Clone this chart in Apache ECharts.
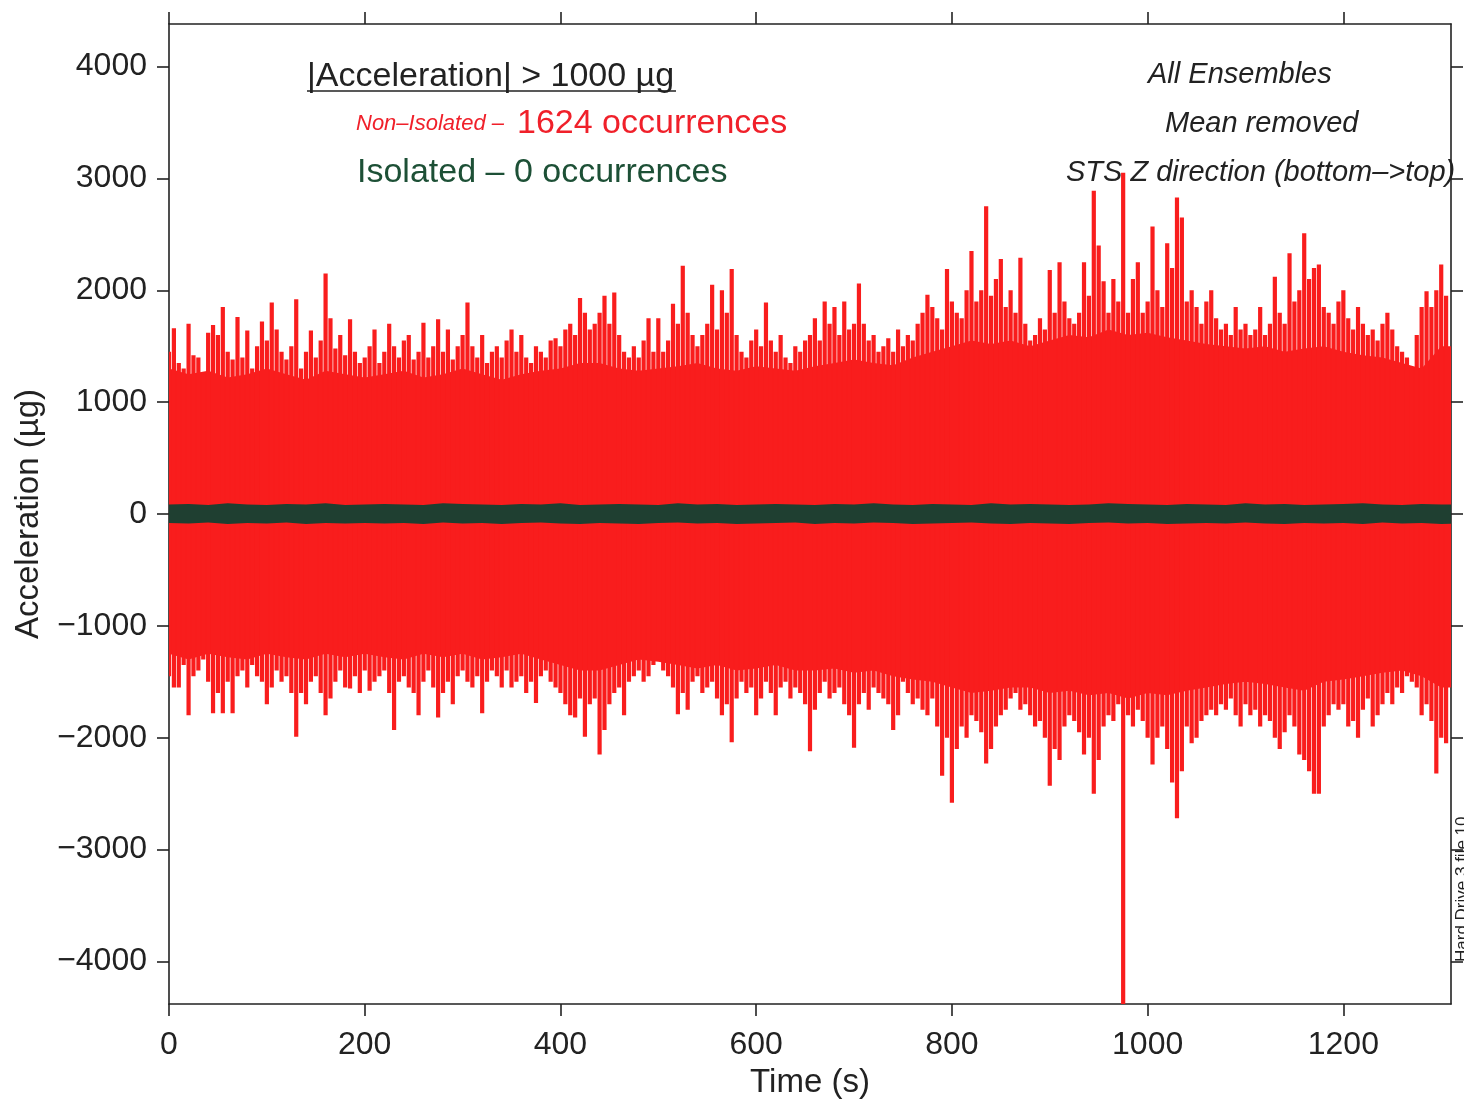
<!DOCTYPE html>
<html>
<head>
<meta charset="utf-8">
<title>Acceleration time series</title>
<script src="https://cdn.jsdelivr.net/npm/echarts@6/dist/echarts.min.js"></script>
<style>
  html, body { margin: 0; padding: 0; background: #fff; }
  #chart { width: 1464px; height: 1100px; }
</style>
</head>
<body>
<div id="chart"></div>
<script>
// time step (s) between the peak samples and between the core-envelope samples
var PEAK_STEP = 5;
var CORE_STEP = 20;

var xTicks = [0, 200, 400, 600, 800, 1000, 1200];
var yTicks = [-4000, -3000, -2000, -1000, 0, 1000, 2000, 3000, 4000];

// Non-isolated: peak of each 5 s slice (µg), t = 0, 5, 10 ...
var upperPeak = [
  1450,1660,1350,1300,1700,1420,1400,1250,1620,1690,
  1600,1850,1450,1380,1760,1400,1640,1300,1500,1720,
  1550,1890,1650,1450,1380,1500,1920,1300,1450,1640,
  1400,1550,2150,1750,1480,1600,1420,1740,1450,1350,
  1400,1500,1650,1350,1450,1700,1500,1400,1550,1600,
  1380,1450,1710,1400,1500,1740,1450,1650,1380,1500,
  1600,1890,1500,1400,1600,1350,1450,1500,1400,1550,
  1650,1450,1600,1400,1350,1500,1450,1400,1550,1570,
  1500,1650,1700,1600,1930,1800,1650,1700,1800,1950,
  1700,1980,1600,1450,1400,1500,1400,1550,1750,1450,
  1750,1450,1550,1880,1700,2220,1800,1600,1500,1600,
  1700,2050,1650,2000,1800,2190,1600,1450,1400,1550,
  1650,1500,1890,1550,1450,1600,1400,1350,1500,1450,
  1550,1600,1750,1550,1900,1700,1850,1600,1900,1650,
  1700,2060,1700,1550,1600,1450,1500,1570,1450,1650,
  1500,1600,1550,1700,1800,1960,1850,1750,1650,2190,
  1900,1800,1750,2000,2350,1900,2000,2750,1950,2100,
  2280,1850,2000,1800,2290,1700,1550,1600,1750,1650,
  2180,1800,2250,1900,1750,1700,1800,2250,1950,2890,
  2400,2080,1800,2100,1900,3050,1800,2100,2250,1800,
  1900,2570,2000,1850,2420,2200,2830,2650,1900,2000,
  1850,1700,1900,2000,1750,1650,1700,1600,1850,1650,
  1700,1600,1650,1850,1600,1700,2120,1800,1700,2330,
  1900,2000,2510,2100,2200,2230,1850,1800,1700,1900,
  2000,1750,1650,1850,1700,1600,1650,1550,1700,1800,
  1650,1500,1450,1400,1300,1600,1850,1990,1850,2000,
  2230,1950
];
var lowerPeak = [
  -1450,-1550,-1550,-1350,-1800,-1450,-1400,-1300,-1500,-1780,
  -1600,-1780,-1500,-1780,-1450,-1400,-1550,-1350,-1450,-1500,
  -1700,-1550,-1400,-1500,-1450,-1600,-1990,-1600,-1700,-1500,
  -1450,-1600,-1800,-1650,-1500,-1400,-1550,-1560,-1450,-1600,
  -1400,-1580,-1500,-1450,-1400,-1600,-1930,-1500,-1450,-1550,
  -1600,-1800,-1500,-1400,-1550,-1820,-1600,-1500,-1700,-1450,
  -1400,-1500,-1550,-1450,-1780,-1500,-1400,-1450,-1550,-1400,
  -1550,-1500,-1450,-1600,-1500,-1690,-1450,-1400,-1500,-1550,
  -1600,-1700,-1800,-1820,-1650,-1990,-1700,-1650,-2150,-1930,
  -1700,-1600,-1550,-1800,-1500,-1450,-1400,-1500,-1450,-1350,
  -1300,-1400,-1450,-1550,-1790,-1600,-1750,-1500,-1450,-1600,
  -1550,-1500,-1650,-1800,-1700,-2040,-1650,-1500,-1600,-1550,
  -1800,-1650,-1500,-1600,-1800,-1550,-1500,-1650,-1550,-1600,
  -1700,-2120,-1750,-1600,-1500,-1650,-1600,-1550,-1700,-1800,
  -2090,-1700,-1600,-1750,-1550,-1600,-1650,-1700,-1930,-1800,
  -1500,-1600,-1700,-1650,-1750,-1800,-1650,-1900,-2340,-2000,
  -2580,-2100,-1900,-2000,-1800,-1850,-1950,-2230,-2100,-1900,
  -1800,-1750,-1650,-1600,-1750,-1700,-1800,-1900,-1850,-2000,
  -2430,-2100,-2200,-1900,-1800,-1850,-1950,-2150,-2000,-2500,
  -2200,-1900,-1800,-1850,-1700,-4380,-1800,-1900,-1750,-1850,
  -2000,-2240,-2000,-1900,-2100,-2400,-2720,-2300,-1900,-2050,
  -2000,-1850,-1800,-1750,-1800,-1700,-1750,-1650,-1800,-1900,
  -1700,-1800,-1750,-1900,-1800,-1850,-2000,-2100,-1950,-1800,
  -1900,-2150,-2200,-2300,-2500,-2500,-1900,-1800,-1700,-1750,
  -1700,-1900,-1850,-2000,-1750,-1650,-1900,-1800,-1700,-1600,
  -1700,-1550,-1600,-1450,-1500,-1550,-1800,-1700,-1850,-2320,
  -2000,-2050
];

// Non-isolated: solid core of the trace, t = 0, 20, 40 ...
var upperCore = [
  1300,1250,1280,1220,1250,1300,1250,1200,1280,1250,1220,
  1250,1280,1220,1250,1300,1250,1200,1250,1280,1300,1350,
  1350,1300,1280,1300,1320,1350,1300,1280,1320,1300,1280,
  1320,1350,1380,1350,1330,1400,1450,1500,1550,1520,1550,
  1500,1550,1600,1580,1650,1600,1620,1580,1550,1520,1500,
  1480,1500,1450,1480,1500,1450,1420,1400,1350,1300,1500,
  1500
];
var lowerCore = [
  -1250,-1300,-1250,-1280,-1300,-1250,-1280,-1300,-1250,-1280,-1250,
  -1280,-1300,-1250,-1280,-1250,-1300,-1280,-1250,-1300,-1350,-1400,
  -1400,-1350,-1300,-1320,-1350,-1380,-1350,-1400,-1380,-1350,-1400,
  -1400,-1380,-1420,-1400,-1450,-1480,-1500,-1550,-1600,-1580,-1550,
  -1550,-1600,-1580,-1620,-1600,-1650,-1600,-1620,-1580,-1550,-1520,
  -1500,-1520,-1550,-1580,-1500,-1480,-1450,-1420,-1400,-1450,-1550,
  -1550
];

// Isolated trace envelope, t = 0, 20, 40 ...
var isoUpper = [
  85,90,80,95,85,80,90,85,95,80,85,
  90,85,80,95,90,85,80,90,85,95,80,
  85,90,85,80,95,85,90,80,85,90,85,
  80,90,85,95,85,80,90,85,80,95,85,
  90,85,80,85,95,90,85,80,90,85,80,
  95,85,90,80,85,90,95,85,80,90,85,
  85
];
var isoLower = [
  -80,-85,-75,-90,-80,-85,-75,-90,-80,-85,-80,
  -85,-80,-90,-75,-85,-80,-90,-80,-75,-85,-90,
  -80,-85,-90,-80,-75,-85,-80,-90,-85,-80,-75,
  -90,-80,-85,-75,-80,-90,-85,-80,-75,-85,-90,
  -80,-85,-90,-80,-75,-85,-80,-90,-85,-80,-85,
  -75,-85,-90,-80,-85,-80,-90,-75,-85,-80,-90,
  -85
];

var RED = '#f91d1d';
var GREEN = '#1f3f31';
var INK = '#222222';
var FONT = '"Liberation Sans", Arial, Helvetica, sans-serif';

function toPairs(values, step) {
  return values.map(function (v, i) { return [i * step, v]; });
}

var peakData = upperPeak.map(function (v, i) {
  return [i * PEAK_STEP, v, lowerPeak[i]];
});

function areaSeries(values, color, z) {
  return {
    type: 'line',
    data: toPairs(values, CORE_STEP),
    showSymbol: false,
    silent: true,
    z: z,
    lineStyle: { width: 0, color: color },
    itemStyle: { color: color },
    areaStyle: { color: color, opacity: 1 }
  };
}

var chart = echarts.init(document.getElementById('chart'), null, { renderer: 'canvas' });

var axisLine = { show: true, onZero: false, lineStyle: { color: INK, width: 1.6 } };
var tickStyle = { color: INK, width: 1.6 };

var option = {
  backgroundColor: '#ffffff',
  animation: false,
  grid: { left: 169, right: 13, top: 24, bottom: 96, outerBoundsMode: 'none' },
  xAxis: [{
    type: 'value', min: 0, max: 1310, position: 'bottom',
    axisLine: axisLine,
    axisTick: { show: true, inside: false, length: 12, customValues: xTicks, lineStyle: tickStyle },
    axisLabel: {
      customValues: xTicks, fontSize: 32, color: INK, fontFamily: FONT, margin: 25,
      formatter: function (v) { return String(v); }
    },
    splitLine: { show: false },
    name: 'Time (s)', nameLocation: 'middle', nameGap: 62,
    nameTextStyle: { fontSize: 33, color: INK, fontFamily: FONT }
  }, {
    type: 'value', min: 0, max: 1310, position: 'top',
    axisLine: axisLine,
    axisTick: { show: true, inside: false, length: 12, customValues: xTicks, lineStyle: tickStyle },
    axisLabel: { show: false },
    splitLine: { show: false }
  }],
  yAxis: [{
    type: 'value', min: -4380, max: 4380, position: 'left',
    axisLine: axisLine,
    axisTick: { show: true, inside: false, length: 12, customValues: yTicks, lineStyle: tickStyle },
    axisLabel: {
      customValues: yTicks, fontSize: 32, color: INK, fontFamily: FONT, margin: 22,
      formatter: function (v) { return String(v).replace('-', '\u2212'); }
    },
    splitLine: { show: false },
    name: 'Acceleration (\u00b5g)', nameLocation: 'middle', nameGap: 124,
    nameTextStyle: { fontSize: 33, color: INK, fontFamily: FONT }
  }, {
    type: 'value', min: -4380, max: 4380, position: 'right',
    axisLine: axisLine,
    axisTick: { show: true, inside: false, length: 12, customValues: yTicks, lineStyle: tickStyle },
    axisLabel: { show: false },
    splitLine: { show: false }
  }],
  series: [
    areaSeries(upperCore, RED, 1),
    areaSeries(lowerCore, RED, 1),
    {
      type: 'custom',
      data: peakData,
      clip: true,
      silent: true,
      z: 2,
      encode: { x: 0, y: [1, 2] },
      renderItem: function (params, api) {
        var hi = api.coord([api.value(0), api.value(1)]);
        var lo = api.coord([api.value(0), api.value(2)]);
        return {
          type: 'rect',
          shape: { x: hi[0] - 2.1, y: hi[1], width: 4.2, height: lo[1] - hi[1] },
          style: { fill: RED }
        };
      }
    },
    areaSeries(isoUpper, GREEN, 3),
    areaSeries(isoLower, GREEN, 3)
  ],
  graphic: [
    { type: 'text', left: 307, top: 60, z: 10,
      style: { text: '|Acceleration| > 1000 \u00b5g', fontSize: 34, fill: INK, fontFamily: FONT } },
    { type: 'line', z: 10, shape: { x1: 307, y1: 91, x2: 676, y2: 91 }, style: { stroke: INK, lineWidth: 1.5 } },
    { type: 'text', left: 356, top: 113, z: 10,
      style: { text: 'Non\u2013Isolated \u2013', fontSize: 22, fontStyle: 'italic', fill: '#f0202a', fontFamily: FONT } },
    { type: 'text', left: 517, top: 107, z: 10,
      style: { text: '1624 occurrences', fontSize: 34, fill: '#f0202a', fontFamily: FONT } },
    { type: 'text', left: 357, top: 156, z: 10,
      style: { text: 'Isolated \u2013 0 occurrences', fontSize: 34, fill: '#1d5036', fontFamily: FONT } },
    { type: 'text', left: 1148, top: 60, z: 10,
      style: { text: 'All Ensembles', fontSize: 29, fontStyle: 'italic', fill: INK, fontFamily: FONT } },
    { type: 'text', left: 1165, top: 109, z: 10,
      style: { text: 'Mean removed', fontSize: 29, fontStyle: 'italic', fill: INK, fontFamily: FONT } },
    { type: 'text', left: 1066, top: 158, z: 10,
      style: { text: 'STS Z direction (bottom\u2013>top)', fontSize: 29, fontStyle: 'italic', fill: INK, fontFamily: FONT } },
    { type: 'text', x: 1454, y: 962, rotation: Math.PI / 2, z: 10,
      style: { text: 'Hard Drive 3 file 10', fontSize: 17, fill: INK, fontFamily: FONT, textVerticalAlign: 'top' } }
  ]
};

chart.setOption(option);
</script>
</body>
</html>
